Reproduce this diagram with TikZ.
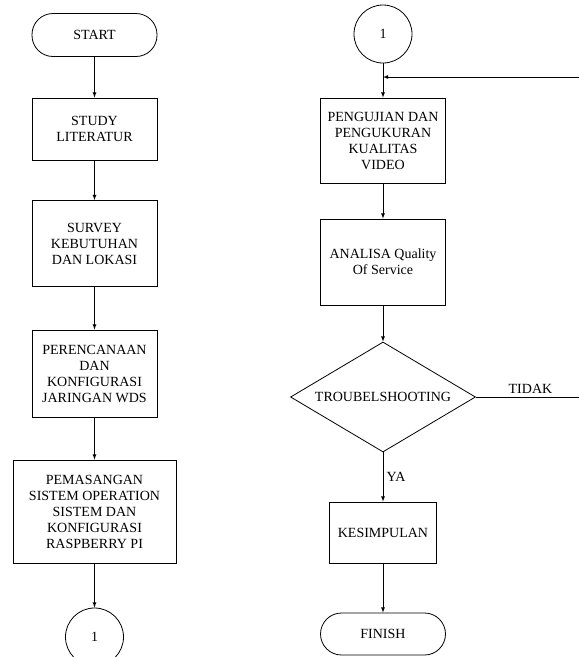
\documentclass[tikz,border=0pt]{standalone}
\usepackage{fontspec}
\setmainfont{Liberation Serif}
\usetikzlibrary{shapes.geometric}

\tikzset{
  term/.style={draw, rounded corners=21pt, minimum width=125pt, minimum height=43pt},
  proc/.style={draw, align=center, minimum width=125pt, inner sep=2pt},
  conn/.style={draw, circle, minimum size=58pt, inner sep=0pt},
  decide/.style={draw, diamond, aspect=1.68, minimum width=185pt, minimum height=110pt, inner sep=0pt},
  every node/.append style={font=\fontsize{14}{16}\selectfont}
}

\begin{document}
\begin{tikzpicture}[x=1pt, y=-1pt, auto, thick, >=latex]
  \useasboundingbox (0,0) rectangle (579,657);

  % left column
  \node[term](start) at (94.5,35){START};
  \node[proc, minimum height=62pt, below of=start, node distance=94pt](study){STUDY\\LITERATUR};
  \node[proc, minimum height=86pt, below of=study, node distance=114.5pt](survey){SURVEY\\KEBUTUHAN\\DAN LOKASI};
  \node[proc, minimum height=87pt, below of=survey, node distance=130pt](plan){PERENCANAAN\\DAN\\KONFIGURASI\\JARINGAN WDS};
  \node[proc, minimum width=163pt, minimum height=103pt, below of=plan, node distance=138pt](install){PEMASANGAN\\SISTEM OPERATION\\SISTEM DAN\\KONFIGURASI\\RASPBERRY PI};
  \node[conn, below of=install, node distance=125.5pt](connout){1};

  % right column
  \node[conn](connin) at (383,34){1};
  \node[proc, minimum height=85pt, below of=connin, node distance=106.5pt](test){PENGUJIAN DAN\\PENGUKURAN\\KUALITAS\\VIDEO};
  \node[proc, minimum height=86pt, below of=test, node distance=121.5pt](qos){ANALISA Quality\\Of Service};
  \node[decide, below of=qos, node distance=135pt](trouble){TROUBELSHOOTING};
  \node[proc, minimum width=107pt, minimum height=61pt, below of=trouble, node distance=135.5pt](concl){KESIMPULAN};
  \node[term, minimum height=42pt, below of=concl, node distance=101.5pt](finish){FINISH};

  \coordinate (join) at (383,77);
  \coordinate (loop) at (585,397);

  \draw[->] (start) -- (study);
  \draw[->] (study) -- (survey);
  \draw[->] (survey) -- (plan);
  \draw[->] (plan) -- (install);
  \draw[->] (install) -- (connout);

  \draw[->] (connin) -- (test);
  \draw[->] (test) -- (qos);
  \draw[->] (qos) -- (trouble);
  \draw[->] (trouble) -- node{YA}(concl);
  \draw[->] (concl) -- (finish);
  \draw[->] (trouble.east) -- node{TIDAK}(loop) |- (join);
\end{tikzpicture}
\end{document}
